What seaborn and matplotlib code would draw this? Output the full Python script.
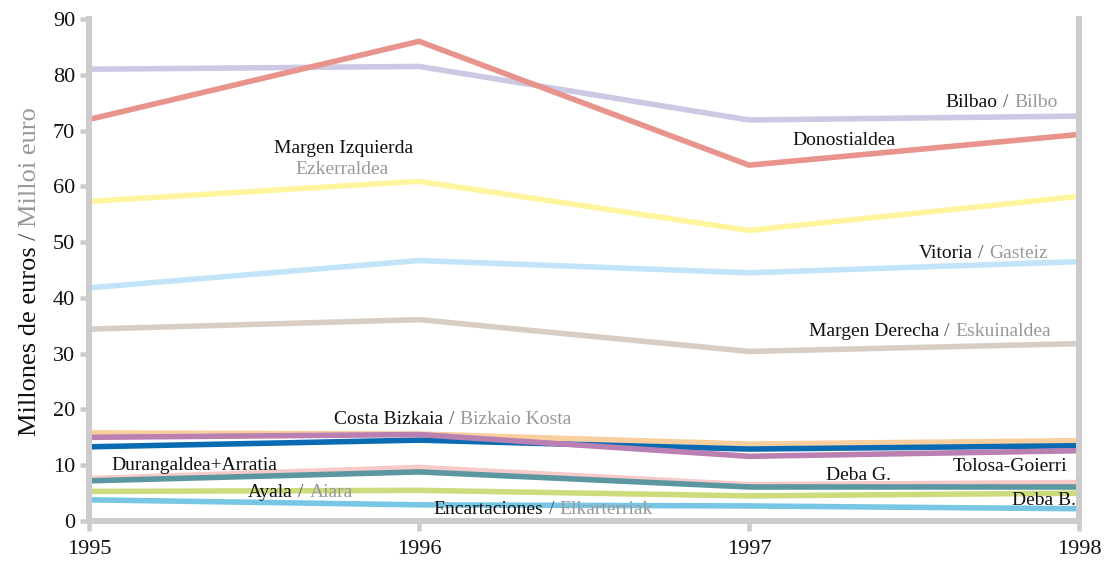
import pandas as pd
import matplotlib.pyplot as plt
import seaborn as sns
from matplotlib.offsetbox import TextArea, HPacker, AnnotationBbox

# Data (millions of euros)
years = [1995, 1996, 1997, 1998]
bilbao = [81.0, 81.5, 71.9, 72.6]
donostialdea = [72.0, 86.0, 63.8, 69.3]
margen_izquierda = [57.3, 60.9, 52.1, 58.2]
vitoria = [41.8, 46.7, 44.5, 46.5]
margen_derecha = [34.4, 36.1, 30.4, 31.8]
costa_bizkaia = [15.8, 15.6, 13.8, 14.4]
durangaldea = [13.3, 14.5, 12.9, 13.5]
tolosa_goierri = [15.0, 15.5, 11.6, 12.6]
deba_g = [7.6, 9.6, 6.5, 6.9]
deba_b = [7.2, 8.8, 6.1, 6.1]
ayala = [5.3, 5.5, 4.5, 5.0]
encartaciones = [3.8, 2.9, 2.7, 2.2]

series = {
    "Bilbao": bilbao,
    "Donostialdea": donostialdea,
    "Margen Izquierda": margen_izquierda,
    "Vitoria": vitoria,
    "Margen Derecha": margen_derecha,
    "Costa Bizkaia": costa_bizkaia,
    "Durangaldea+Arratia": durangaldea,
    "Tolosa-Goierri": tolosa_goierri,
    "Deba G.": deba_g,
    "Deba B.": deba_b,
    "Ayala": ayala,
    "Encartaciones": encartaciones,
}
colors = {
    "Bilbao": "#cdc8e4",
    "Donostialdea": "#e8938c",
    "Margen Izquierda": "#fff59e",
    "Vitoria": "#c2e4f8",
    "Margen Derecha": "#d8cdc2",
    "Costa Bizkaia": "#f9cf9f",
    "Durangaldea+Arratia": "#0a6bb3",
    "Tolosa-Goierri": "#ba80b2",
    "Deba G.": "#f7c9c9",
    "Deba B.": "#5b97a1",
    "Ayala": "#cedb7c",
    "Encartaciones": "#77c6e4",
}

rows = []
for name, vals in series.items():
    for y, v in zip(years, vals):
        rows.append({"region": name, "year": y, "value": v})
df = pd.DataFrame(rows)

sns.set_style("white")
plt.rcParams['font.family'] = ['Liberation Serif', 'DejaVu Serif']

BLACK = "#111111"
SLASH = "#555555"
GRAY = "#999999"

fig = plt.figure(figsize=(11.09, 5.66), dpi=100)
ax = fig.add_axes([0.0803, 0.0795, 0.8927, 0.8869])

sns.lineplot(data=df, x="year", y="value", hue="region", palette=colors,
             hue_order=list(series.keys()), linewidth=4.0, legend=False, ax=ax)

ax.set_xlim(1995, 1998)
ax.set_ylim(0, 90)
ax.set_xticks(years)
ax.set_xticklabels([str(y) for y in years])
ax.set_yticks(range(0, 91, 10))
ax.set_xlabel("")
ax.set_ylabel("")

grey = "#cccccc"
for side in ["left", "right", "bottom"]:
    ax.spines[side].set_visible(True)
    ax.spines[side].set_color(grey)
    ax.spines[side].set_linewidth(4.3)
    ax.spines[side].set_capstyle("projecting")
ax.spines["top"].set_visible(False)
ax.tick_params(axis="both", colors=grey, labelcolor=BLACK, labelsize=16,
               width=3.3, direction="out")
ax.tick_params(axis="y", length=6.5, pad=3.5, left=True)
ax.tick_params(axis="x", length=7.5, pad=6, bottom=True)

# y-axis label in several colours, stacked bottom to top
fig.canvas.draw()
renderer = fig.canvas.get_renderer()
ypos = 1 - 436 / 566
for txt, col, gap in [("Millones de euros", BLACK, 6), ("/", SLASH, 6), ("Milloi euro", GRAY, 0)]:
    t = fig.text(30 / 1109, ypos, txt, rotation=90, ha="center", va="bottom",
                 fontsize=19, color=col)
    bb = t.get_window_extent(renderer)
    ypos = (bb.y1 + gap) / fig.bbox.height


def label(x, y, black, gray=None, align=0.5):
    parts = []
    if black:
        parts.append(TextArea(black, textprops=dict(color=BLACK, fontsize=14)))
    if black and gray:
        parts.append(TextArea("/", textprops=dict(color=SLASH, fontsize=14)))
    if gray:
        parts.append(TextArea(gray, textprops=dict(color=GRAY, fontsize=14)))
    box = HPacker(children=parts, pad=0, sep=4, align="baseline")
    ab = AnnotationBbox(box, (x, y), xycoords="data", frameon=False, pad=0,
                        box_alignment=(align, 0.5), annotation_clip=False)
    ax.add_artist(ab)


label(1997.935, 75.0, "Bilbao", "Bilbo", align=1)
label(1997.288, 68.3, "Donostialdea")
label(1995.77, 66.8, "Margen Izquierda")
label(1995.767, 63.1, None, "Ezkerraldea")
label(1997.905, 48.0, "Vitoria", "Gasteiz", align=1)
label(1997.915, 34.0, "Margen Derecha", "Eskuinaldea", align=1)
label(1995.742, 18.2, "Costa Bizkaia", "Bizkaio Kosta", align=0)
label(1995.068, 9.9, "Durangaldea+Arratia", align=0)
label(1995.482, 5.1, "Ayala", "Aiara", align=0)
label(1996.043, 2.1, "Encartaciones", "Elkarterriak", align=0)
label(1997.233, 8.1, "Deba G.", align=0)
label(1997.965, 9.7, "Tolosa-Goierri", align=1)
label(1997.99, 3.7, "Deba B.", align=1)

plt.savefig("out.png", dpi=100)
